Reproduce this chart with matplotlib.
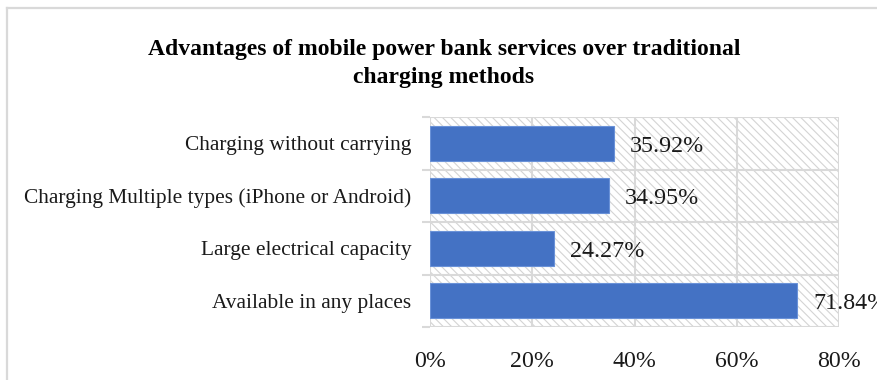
import numpy as np
import matplotlib.pyplot as plt
from matplotlib.patches import Rectangle
from matplotlib.lines import Line2D

# Survey results
categories = ["Charging without carrying",
              "Charging Multiple types (iPhone or Android)",
              "Large electrical capacity",
              "Available in any places"]
shares = [35.92, 34.95, 24.27, 71.84]
x_ticks = [0, 20, 40, 60, 80]

plt.rcParams['font.family'] = ['Liberation Serif', 'DejaVu Serif']

GRID = '#d9d9d9'
BAR = '#4472c4'
TXT = '#1a1a1a'

fig = plt.figure(figsize=(8.78, 3.8), dpi=100)
W, H = 878, 380
ax = fig.add_axes([430 / W, 1 - 327 / H, (839 - 430) / W, (327 - 117) / H])

# chart frame (runs off the right and bottom edges)
fig.add_artist(Line2D([7 / W, 1], [1 - 8 / H] * 2, transform=fig.transFigure, color=GRID, lw=1.6))
fig.add_artist(Line2D([7 / W] * 2, [0, 1 - 8 / H], transform=fig.transFigure, color=GRID, lw=1.6))

ypos = np.arange(len(categories))
ax.set_xlim(0, 80)
ax.set_ylim(len(categories) - 0.5, -0.5)

# hatched plot area
plt.rcParams['hatch.linewidth'] = 0.8
ax.add_patch(Rectangle((0, 0), 1, 1, transform=ax.transAxes, facecolor='white',
                       edgecolor='#d4d4d4', hatch='\\\\\\\\', lw=0, zorder=0))

for x in x_ticks:
    ax.axvline(x, color=GRID, lw=1.5, zorder=1)
for b in np.arange(-0.5, len(categories), 1.0):
    ax.axhline(b, color=GRID, lw=1.5, zorder=1)

ax.barh(ypos, shares, height=0.66, color=BAR, edgecolor='#6a92d8', lw=0.8, zorder=2)
for y, v in zip(ypos, shares):
    ax.annotate(f"{v:.2f}%", (v, y), xytext=(11.5, -2), textcoords='offset points',
                ha='left', va='center', fontsize=17.3, color=TXT, zorder=3,
                annotation_clip=False)

for s in ax.spines.values():
    s.set_visible(False)

ax.set_xticks(x_ticks)
ax.set_xticklabels([f"{x}%" for x in x_ticks], fontsize=17.2, color=TXT)
ax.tick_params(axis='x', length=0, pad=17)

ax.set_yticks(ypos)
ax.set_yticklabels(categories, fontsize=15.4, color=TXT)
ax.tick_params(axis='y', which='major', length=0, pad=13.5)
ax.set_yticks(np.arange(-0.5, len(categories), 1.0), minor=True)
ax.tick_params(axis='y', which='minor', length=6, width=1.5, color=GRID)

fig.text(444 / W, 1 - 50 / H, "Advantages of mobile power bank services over traditional",
         ha='center', va='center', fontsize=17, fontweight='bold', color='black')
fig.text(444 / W, 1 - 77 / H, "charging methods",
         ha='center', va='center', fontsize=17, fontweight='bold', color='black')

fig.savefig('out.png', dpi=100, facecolor='white')
